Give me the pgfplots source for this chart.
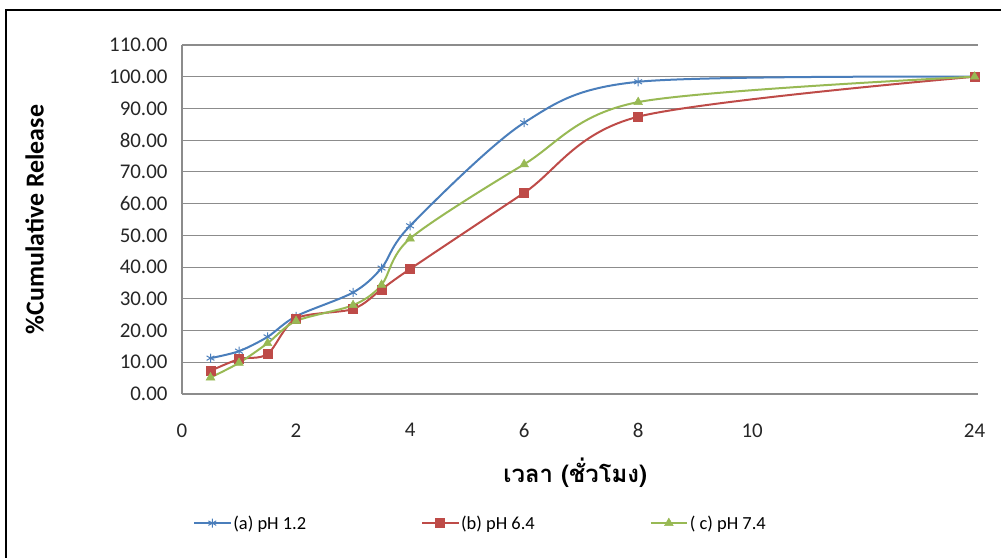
\documentclass[border=0pt]{standalone}
\usepackage{pgfplots}
\pgfplotsset{compat=1.18}
\usepackage{fontspec}
\setmainfont{Carlito}
\newfontfamily\thaifont[Script=Thai]{Loma}
\definecolor{sblue}{HTML}{4A7EBB}
\definecolor{sred}{HTML}{BE4B48}
\definecolor{sgreen}{HTML}{98B954}
\definecolor{gridc}{HTML}{8C8C8C}
\begin{document}
\begin{tikzpicture}
\useasboundingbox (-182bp,-164bp) rectangle (819bp,394bp);
\draw[black,line width=1.5bp] (-176bp,-164bp) -- (-176bp,384bp) -- (819bp,384bp);
\begin{axis}[
  at={(0,0)}, anchor=south west,
  scale only axis, width=796bp, height=349bp,
  xmin=0, xmax=13.96, ymin=0, ymax=110,
  xtick={0,2,4,6,8,10,13.9},
  xticklabels={0,2,4,6,8,10,24},
  ytick={0,10,...,110},
  yticklabel={\pgfmathprintnumber[fixed,fixed zerofill,precision=2]{\tick}},
  /pgf/number format/assume math mode=true,
  tick style={draw=none},
  ymajorgrids, grid style={gridc, line width=1.1bp},
  axis x line*=bottom, axis y line*=left,
  axis line style={gridc, line width=1.1bp, -},
  tick label style={font=\fontsize{21}{24}\selectfont, text=black!85},
  yticklabel style={xshift=-11bp},
  xticklabel style={yshift=-26bp},
  ylabel={\bfseries\%Cumulative Release},
  ylabel style={font=\fontsize{26}{30}\selectfont, at={(axis description cs:-0.185,0.5)}, anchor=center},
  xlabel={\thaifont\bfseries เวลา (ชั่วโมง)},
  xlabel style={font=\fontsize{24}{28}\selectfont, at={(axis description cs:0.494,-0.226)}, anchor=center},
  legend columns=3,
  legend style={draw=none, fill=none, font=\fontsize{18.5}{21}\selectfont, at={(axis description cs:0.014,-0.37)}, anchor=west,
    /tikz/every even column/.append style={column sep=113bp}, inner sep=0pt},
  legend image code/.code={\draw[mark repeat=2,mark phase=2,#1] plot coordinates {(0bp,0bp) (18bp,0bp) (36bp,0bp)};},
  every axis plot/.append style={line width=2bp, smooth, tension=0.5},
  clip=false,
]
\addplot[sblue, mark=asterisk, mark size=4.5bp, mark options={line width=1bp}] coordinates {
(0.5,11.3) (1,13.5) (1.5,18) (2,24.5) (3,32) (3.5,39.7) (4,53) (6,85.5) (8,98.4) (13.9,100)};
\addlegendentry{(a) pH 1.2}
\addplot[sred, mark=square*, mark size=4.5bp, mark options={line width=0.5bp}] coordinates {
(0.5,7.3) (1,11) (1.5,12.6) (2,23.8) (3,26.8) (3.5,33) (4,39.4) (6,63.4) (8,87.4) (13.9,100)};
\addlegendentry{(b) pH 6.4}
\addplot[sgreen, mark=triangle*, mark size=5bp, mark options={line width=0.5bp}] coordinates {
(0.5,5.2) (1,9.8) (1.5,16) (2,23) (3,28) (3.5,34.4) (4,49) (6,72.4) (8,92) (13.9,100)};
\addlegendentry{( c) pH 7.4}
\end{axis}
\end{tikzpicture}
\end{document}
